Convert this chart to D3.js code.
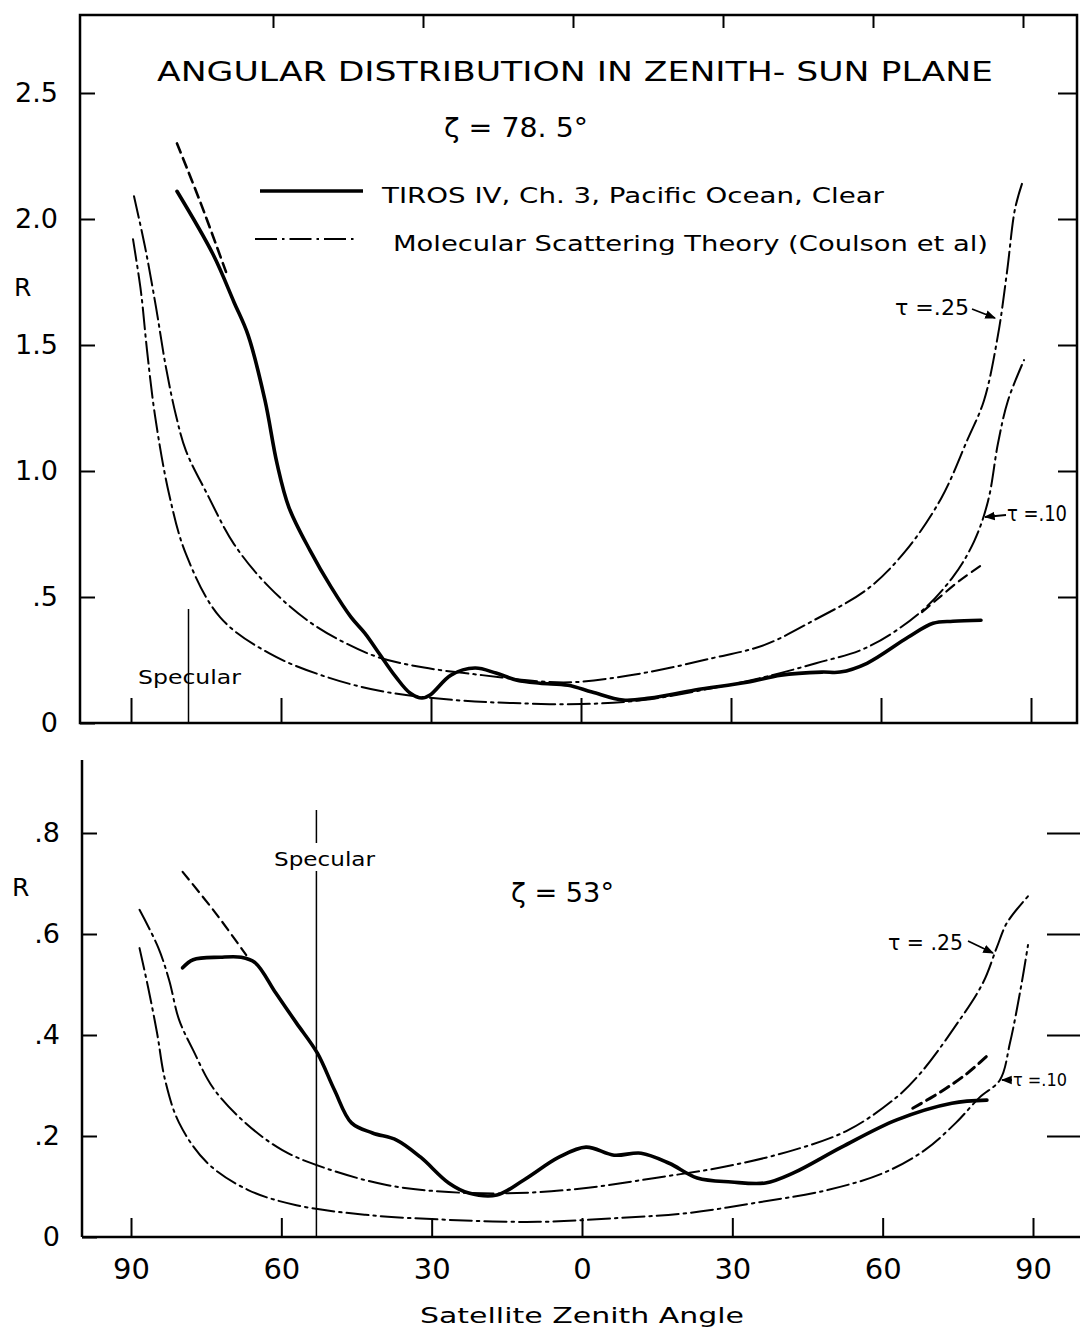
<!DOCTYPE html>
<html>
<head>
<meta charset="utf-8">
<script src="https://cdn.jsdelivr.net/npm/d3@7"></script>
<style>
  body { margin: 0; background: #fff; }
  text { font-family: "DejaVu Sans", sans-serif; fill: #000; }
</style>
</head>
<body>
<div id="chart"></div>
<script>
// ---- data (angle in degrees, left side negative; R = reflectance) ----
var xTicks = [-90, -60, -30, 0, 30, 60, 90];
var topYTicks = [0, 0.5, 1.0, 1.5, 2.0, 2.5];
var topYLabels = ["0", ".5", "1.0", "1.5", "2.0", "2.5"];
var botYTicks = [0, 0.2, 0.4, 0.6, 0.8];
var botYLabels = ["0", ".2", ".4", ".6", ".8"];

// zeta = 78.5
var topTiros = [[-80.8,2.11],[-73.6,1.86],[-69.4,1.67],[-66.6,1.54],[-63.2,1.28],[-60.8,1.03],
  [-58.4,0.855],[-54.2,0.685],[-50,0.54],[-46,0.42],[-43.2,0.356],[-40.4,0.277],[-37,0.182],
  [-34.2,0.119],[-31.8,0.099],[-30.2,0.111],[-26,0.19],[-21.2,0.218],[-17,0.198],[-12.8,0.17],
  [-8.2,0.158],[-2.6,0.15],[2.2,0.123],[8.4,0.091],[13.8,0.099],[22.8,0.131],[33.2,0.162],
  [40,0.19],[48.2,0.202],[51.8,0.202],[57.2,0.237],[65.4,0.34],[70.4,0.396],[74.4,0.404],[80,0.408]];
var topDashLeft = [[-80.8,2.30],[-76,2.06],[-71,1.79]];
var topDashRight = [[68.2,0.44],[71,0.487],[75.8,0.566],[80,0.625]];
var topTau25 = [[-89.4,2.09],[-87.2,1.89],[-85,1.65],[-83,1.41],[-81,1.22],[-79,1.08],[-74.8,0.91],
  [-69.4,0.71],[-62.4,0.54],[-54.2,0.40],[-47.4,0.32],[-40.4,0.26],[-31.4,0.22],[-19.8,0.19],
  [-8.2,0.165],[-1.4,0.162],[12.4,0.198],[26.2,0.257],[36.6,0.309],[46.8,0.41],[57.2,0.53],
  [64.8,0.68],[72,0.89],[77.2,1.12],[80.6,1.28],[83.4,1.54],[85.2,1.79],[86.8,2.04],[88.2,2.14]];
var topTau10 = [[-89.6,1.92],[-88,1.71],[-86.8,1.48],[-85.2,1.22],[-82.4,0.91],
  [-79,0.67],[-72.2,0.42],[-62.4,0.277],[-50.8,0.182],[-39,0.123],[-25.2,0.091],[-13.6,0.079],
  [0,0.075],[12.4,0.091],[26.2,0.138],[36.6,0.182],[47,0.237],[57.2,0.30],[67.6,0.435],
  [74.4,0.58],[78.6,0.72],[81.4,0.88],[83.4,1.11],[85.4,1.28],[88.6,1.44]];

// zeta = 53
var botTiros = [[-79.7,0.533],[-77.6,0.549],[-72.2,0.554],[-68,0.554],[-65.2,0.543],[-61.1,0.483],
  [-57,0.424],[-52.8,0.364],[-49.4,0.291],[-46,0.226],[-41.8,0.206],[-37,0.192],
  [-32.2,0.158],[-26.6,0.107],[-22.6,0.087],[-17,0.083],[-11.6,0.113],[-4.6,0.158],[0.8,0.178],
  [6.4,0.162],[11.8,0.166],[17.4,0.146],[23,0.117],[29.8,0.109],[36.6,0.107],[42.2,0.127],
  [51.8,0.178],[62.8,0.232],[73.8,0.265],[80.8,0.271]];
var botDashLeft = [[-79.7,0.723],[-73,0.64],[-67,0.558]];
var botDashRight = [[66,0.255],[72,0.29],[77,0.325],[81,0.36]];
var botTau25 = [[-88.3,0.648],[-84.6,0.574],[-82.4,0.509],[-80.4,0.43],[-77.6,0.37],[-73.6,0.295],
  [-67.4,0.228],[-59.8,0.172],[-51.4,0.137],[-39,0.103],[-26.6,0.089],[-13,0.087],
  [0.8,0.097],[14.6,0.117],[28.4,0.139],[42.2,0.172],[53.2,0.212],[62.8,0.277],[67.6,0.325],
  [74.4,0.416],[80,0.503],[82.8,0.574],[84.8,0.622],[89.2,0.677]];
var botTau10 = [[-88.3,0.572],[-86.6,0.495],[-84.8,0.404],[-83.2,0.311],[-80.4,0.226],[-74.8,0.147],
  [-66.6,0.093],[-57,0.063],[-43.2,0.044],[-26.6,0.034],[-8.8,0.030],[7.8,0.038],[21.6,0.048],
  [35.4,0.069],[49,0.093],[60.2,0.127],[68.4,0.172],[74.6,0.226],[79.4,0.277],[83.4,0.311],
  [85.4,0.384],[87.6,0.495],[89,0.578]];

var svg = d3.select("#chart").append("svg")
    .attr("width", 1080)
    .attr("height", 1330);

var defs = svg.append("defs");
defs.append("marker")
    .attr("id", "arrow")
    .attr("viewBox", "0 0 10 10")
    .attr("refX", 9).attr("refY", 5)
    .attr("markerWidth", 6).attr("markerHeight", 6)
    .attr("orient", "auto")
  .append("path")
    .attr("d", "M0,1 L10,5 L0,9 Z")
    .attr("fill", "#000");

// scales
var xTop = d3.scaleLinear().domain([-90, 90]).range([131, 1031]);
var yTop = d3.scaleLinear().domain([0, 2.5]).range([723, 93]);
var xBot = d3.scaleLinear().domain([-90, 90]).range([131, 1033]);
var yBot = d3.scaleLinear().domain([0, 0.8]).range([1237, 833]);

var dashDot = "22,5,2.5,5";

function drawLine(g, data, x, y, width, dash) {
    var line = d3.line()
        .x(d => x(d[0]))
        .y(d => y(d[1]))
        .curve(d3.curveCatmullRom.alpha(0.5));
    g.append("path")
        .datum(data)
        .attr("d", line)
        .attr("fill", "none")
        .attr("stroke", "#000")
        .attr("stroke-width", width)
        .attr("stroke-linecap", "round")
        .attr("stroke-dasharray", dash || null);
}

function styleAxis(g, size) {
    g.select(".domain").remove();
    g.selectAll(".tick line").attr("stroke", "#000").attr("stroke-width", 2);
    g.selectAll(".tick text").style("font-size", size + "px").attr("fill", "#000");
}

// ================= top panel =================
var topPanel = svg.append("g");

// frame
topPanel.append("path")
    .attr("d", "M80,15 L1077,15 L1077,723 L80,723 Z")
    .attr("fill", "none").attr("stroke", "#000").attr("stroke-width", 2.5);

var topLeft = topPanel.append("g").attr("transform", "translate(80,0)")
    .call(d3.axisLeft(yTop).tickValues(topYTicks).tickSize(-15).tickPadding(22)
        .tickFormat((d, i) => topYLabels[i]));
styleAxis(topLeft, 27);

var topRight = topPanel.append("g").attr("transform", "translate(1077,0)")
    .call(d3.axisRight(yTop).tickValues(topYTicks.slice(1)).tickSize(-19).tickFormat(""));
styleAxis(topRight, 10);

var topBottom = topPanel.append("g").attr("transform", "translate(0,723)")
    .call(d3.axisBottom(xTop).tickValues(xTicks).tickSize(-25).tickFormat(""));
styleAxis(topBottom, 10);

var topTop = topPanel.append("g").attr("transform", "translate(-8,15)")
    .call(d3.axisTop(xTop).tickValues(xTicks.slice(1)).tickSize(-13).tickFormat(""));
styleAxis(topTop, 10);

topPanel.append("text").attr("x", 14).attr("y", 296).style("font-size", "25px").text("R");

// curves
drawLine(topPanel, topTau25, xTop, yTop, 2, dashDot);
drawLine(topPanel, topTau10, xTop, yTop, 2, dashDot);
drawLine(topPanel, topDashLeft, xTop, yTop, 2.6, "10,6");
drawLine(topPanel, topDashRight, xTop, yTop, 2.2, "10,6");
drawLine(topPanel, topTiros, xTop, yTop, 3.6);

// specular
topPanel.append("line")
    .attr("x1", xTop(-78.5)).attr("x2", xTop(-78.5))
    .attr("y1", 609).attr("y2", 723)
    .attr("stroke", "#000").attr("stroke-width", 1.5);
topPanel.append("text").attr("x", 138).attr("y", 684)
    .attr("textLength", 103).attr("lengthAdjust", "spacingAndGlyphs")
    .style("font-size", "19px").text("Specular");

// titles
topPanel.append("text").attr("x", 157).attr("y", 81)
    .attr("textLength", 836).attr("lengthAdjust", "spacingAndGlyphs")
    .style("font-size", "27px").text("ANGULAR  DISTRIBUTION  IN  ZENITH- SUN  PLANE");
topPanel.append("text").attr("x", 444).attr("y", 137)
    .attr("textLength", 144).attr("lengthAdjust", "spacingAndGlyphs")
    .style("font-size", "26px").text("ζ = 78. 5°");

// legend
topPanel.append("line").attr("x1", 260).attr("x2", 363).attr("y1", 191).attr("y2", 191)
    .attr("stroke", "#000").attr("stroke-width", 3.6);
topPanel.append("text").attr("x", 382).attr("y", 203)
    .attr("textLength", 502).attr("lengthAdjust", "spacingAndGlyphs")
    .style("font-size", "22px").text("TIROS  IV, Ch. 3,  Pacific  Ocean, Clear");
topPanel.append("line").attr("x1", 255).attr("x2", 355).attr("y1", 239).attr("y2", 239)
    .attr("stroke", "#000").attr("stroke-width", 2).attr("stroke-dasharray", dashDot);
topPanel.append("text").attr("x", 393).attr("y", 251)
    .attr("textLength", 595).attr("lengthAdjust", "spacingAndGlyphs")
    .style("font-size", "22px").text("Molecular  Scattering  Theory (Coulson  et  al)");

// tau labels
topPanel.append("text").attr("x", 895).attr("y", 315)
    .attr("textLength", 74).attr("lengthAdjust", "spacingAndGlyphs")
    .style("font-size", "21px").text("τ =.25");
topPanel.append("line").attr("x1", 972).attr("y1", 309).attr("x2", 995).attr("y2", 318)
    .attr("stroke", "#000").attr("stroke-width", 1.8).attr("marker-end", "url(#arrow)");
topPanel.append("text").attr("x", 1007).attr("y", 521)
    .attr("textLength", 60).attr("lengthAdjust", "spacingAndGlyphs")
    .style("font-size", "21px").text("τ =.10");
topPanel.append("line").attr("x1", 1006).attr("y1", 515).attr("x2", 985).attr("y2", 517)
    .attr("stroke", "#000").attr("stroke-width", 1.8).attr("marker-end", "url(#arrow)");

// ================= bottom panel =================
var botPanel = svg.append("g");

botPanel.append("line").attr("x1", 82).attr("x2", 82).attr("y1", 760).attr("y2", 1237)
    .attr("stroke", "#000").attr("stroke-width", 2.5);
botPanel.append("line").attr("x1", 82).attr("x2", 1080).attr("y1", 1237).attr("y2", 1237)
    .attr("stroke", "#000").attr("stroke-width", 2.5);

var botLeft = botPanel.append("g").attr("transform", "translate(82,0)")
    .call(d3.axisLeft(yBot).tickValues(botYTicks).tickSize(-15).tickPadding(22)
        .tickFormat((d, i) => botYLabels[i]));
styleAxis(botLeft, 27);

var botRight = botPanel.append("g").attr("transform", "translate(1080,0)")
    .call(d3.axisRight(yBot).tickValues(botYTicks.slice(1)).tickSize(-33).tickFormat(""));
styleAxis(botRight, 10);

var botBottom = botPanel.append("g").attr("transform", "translate(0,1237)")
    .call(d3.axisBottom(xBot).tickValues(xTicks).tickSize(-19).tickPadding(21)
        .tickFormat(d => Math.abs(d)));
styleAxis(botBottom, 29);

botPanel.append("text").attr("x", 12).attr("y", 896).style("font-size", "25px").text("R");

drawLine(botPanel, botTau25, xBot, yBot, 2, dashDot);
drawLine(botPanel, botTau10, xBot, yBot, 2, dashDot);
drawLine(botPanel, botDashLeft, xBot, yBot, 2.2, "10,6");
drawLine(botPanel, botDashRight, xBot, yBot, 3, "10,6");
drawLine(botPanel, botTiros, xBot, yBot, 3.6);

// specular
botPanel.append("line")
    .attr("x1", xBot(-53)).attr("x2", xBot(-53))
    .attr("y1", 810).attr("y2", 843)
    .attr("stroke", "#000").attr("stroke-width", 1.5);
botPanel.append("line")
    .attr("x1", xBot(-53)).attr("x2", xBot(-53))
    .attr("y1", 871).attr("y2", 1237)
    .attr("stroke", "#000").attr("stroke-width", 1.5);
botPanel.append("text").attr("x", 274).attr("y", 866)
    .attr("textLength", 101).attr("lengthAdjust", "spacingAndGlyphs")
    .style("font-size", "19px").text("Specular");

botPanel.append("text").attr("x", 511).attr("y", 902)
    .attr("textLength", 103).attr("lengthAdjust", "spacingAndGlyphs")
    .style("font-size", "27px").text("ζ = 53°");

botPanel.append("text").attr("x", 888).attr("y", 950)
    .attr("textLength", 75).attr("lengthAdjust", "spacingAndGlyphs")
    .style("font-size", "21px").text("τ = .25");
botPanel.append("line").attr("x1", 968).attr("y1", 941).attr("x2", 993).attr("y2", 953)
    .attr("stroke", "#000").attr("stroke-width", 1.8).attr("marker-end", "url(#arrow)");
botPanel.append("text").attr("x", 1013).attr("y", 1086)
    .attr("textLength", 54).attr("lengthAdjust", "spacingAndGlyphs")
    .style("font-size", "18px").text("τ =.10");
botPanel.append("line").attr("x1", 1012).attr("y1", 1080).attr("x2", 1002).attr("y2", 1080)
    .attr("stroke", "#000").attr("stroke-width", 1.8).attr("marker-end", "url(#arrow)");

// x axis title
botPanel.append("text").attr("x", 582).attr("y", 1323)
    .attr("text-anchor", "middle")
    .attr("textLength", 324).attr("lengthAdjust", "spacingAndGlyphs")
    .style("font-size", "22px").text("Satellite   Zenith   Angle");
</script>
</body>
</html>
